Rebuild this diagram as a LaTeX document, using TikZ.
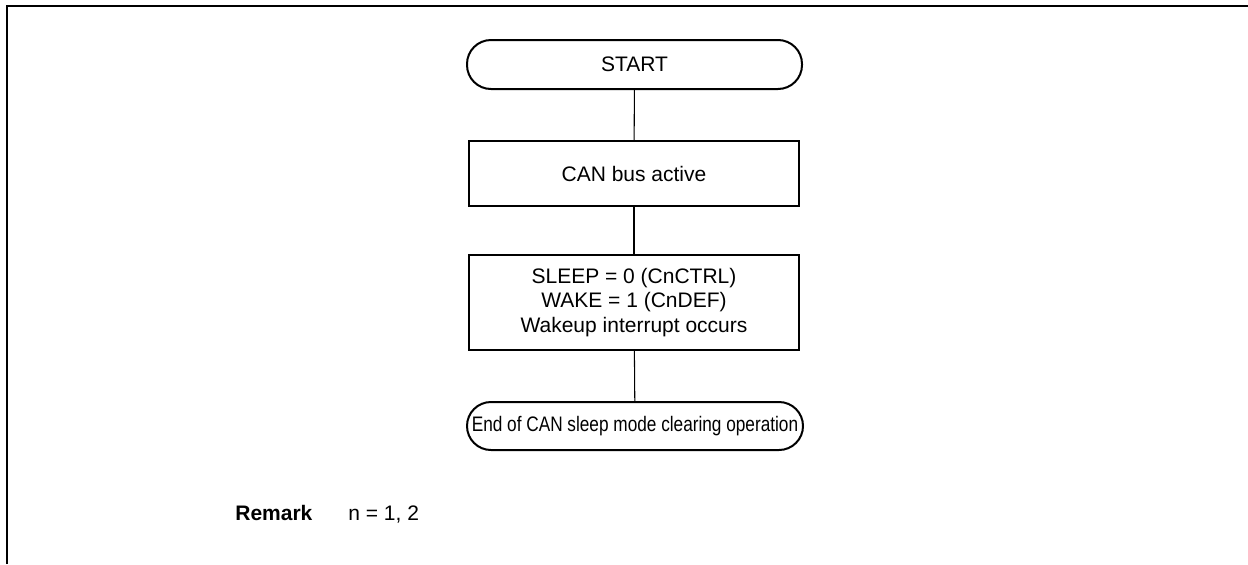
\documentclass[tikz,border=0pt]{standalone}
\usepackage{fontspec}
\setmainfont{Liberation Sans}
\newfontfamily\narrowfont{Liberation Sans}[FakeStretch=0.82]
\usetikzlibrary{positioning}

\begin{document}
\begin{tikzpicture}[font=\fontsize{11.95}{14.06}\selectfont,
    terminal/.style={rectangle, draw, line width=0.4mm, rounded corners=0.48cm, minimum width=6.7cm, minimum height=0.98cm, inner sep=0pt},
    process/.style={rectangle, draw, line width=0.4mm, minimum width=6.6cm, inner sep=0pt, align=center},
    link/.style={line width=0.6pt}]
    \useasboundingbox (0,0) rectangle (24.96,-11.28);

    % Frame
    \draw[line width=1.1pt] (0.14,-11.28) -- (0.14,-0.12) -- (24.96,-0.12);

    % Start
    \node[terminal] (start) at (12.69,-1.29) {START};

    % Steps
    \node[process, minimum height=1.3cm] (busact) at (12.68,-3.47) {CAN bus active};
    \node[process, minimum height=1.9cm] (wake) at (12.68,-6.05) {SLEEP = 0 (CnCTRL)\\WAKE = 1 (CnDEF)\\Wakeup interrupt occurs};

    % End
    \node[terminal, minimum width=6.72cm, minimum height=0.96cm] (finish) at (12.70,-8.52) {\narrowfont End of CAN sleep mode clearing operation};

    % Connections
    \draw[link] (start) -- (busact);
    \draw[link] (busact) -- (wake);
    \draw[link] (wake) -- (finish);

    % Remark
    \node[anchor=base west, inner sep=0pt] (remark) at (4.7,-10.4) {\textbf{Remark}};
    \node[anchor=base west, inner sep=0pt] (remarkn) at (6.96,-10.4) {n = 1, 2};
\end{tikzpicture}
\end{document}
